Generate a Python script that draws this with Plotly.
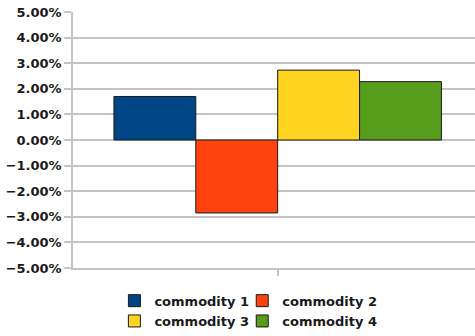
import plotly.graph_objects as go

# Single reporting period, one bar per commodity
period = ["period"]
commodities = ["commodity 1", "commodity 2", "commodity 3", "commodity 4"]
changes = [0.0170, -0.0285, 0.0273, 0.0228]
colors = ["#004586", "#ff420e", "#ffd320", "#579d1c"]

# legend grid: two columns, two rows (paper coordinates)
legend_x = [0.103, 0.421, 0.103, 0.421]
legend_y = [-0.065, -0.065, -0.15, -0.15]

tick_vals = [-0.05, -0.04, -0.03, -0.02, -0.01, 0.0, 0.01, 0.02, 0.03, 0.04, 0.05]

label_font = dict(family="DejaVu Sans", size=13, color="#1a1a1a", weight=700)
grid = "#c4c4c4"

fig = go.Figure()
legend_layout = {}
for i, (name, val, col) in enumerate(zip(commodities, changes, colors)):
    lid = "legend" if i == 0 else f"legend{i + 1}"
    fig.add_trace(go.Bar(
        x=period, y=[val], name=name,
        marker=dict(color=col, line=dict(color="#1a1a1a", width=1)),
        legend=lid,
    ))
    legend_layout[lid] = dict(
        x=legend_x[i], y=legend_y[i], xanchor="left", yanchor="top",
        orientation="h", font=label_font, bgcolor="rgba(0,0,0,0)",
        itemclick=False, itemdoubleclick=False,
    )

fig.update_layout(
    width=475, height=336,
    margin=dict(l=73, r=0, t=12, b=67),
    paper_bgcolor="white", plot_bgcolor="white",
    barmode="group", bargap=0.2, bargroupgap=0,
    showlegend=True,
    xaxis=dict(
        type="category", range=[-0.5, 0.482],
        showticklabels=False, ticks="outside", ticklen=6,
        tickcolor=grid, tickwidth=1.5, showgrid=False,
        showline=True, linecolor=grid, linewidth=1.5,
        zeroline=False, fixedrange=True,
    ),
    yaxis=dict(
        range=[-0.05, 0.05], tickvals=tick_vals, tickformat=".2%",
        tickfont=label_font, ticks="outside", ticklen=7,
        tickcolor=grid, tickwidth=1.5,
        showgrid=True, gridcolor=grid, gridwidth=1.5,
        zeroline=False, showline=True, linecolor=grid, linewidth=1.5,
        fixedrange=True,
    ),
    **legend_layout,
)

fig.write_html("out.html")
